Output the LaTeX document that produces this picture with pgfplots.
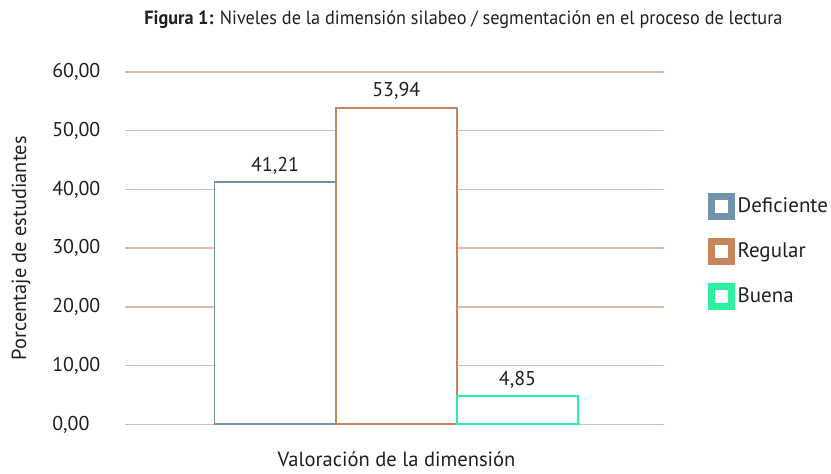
\documentclass[border=0pt]{standalone}
\usepackage{fontspec}
\setmainfont{PT Sans}
\usepackage{pgfplots}
\pgfplotsset{compat=1.18}
\definecolor{cDef}{HTML}{7293AE}
\definecolor{cReg}{HTML}{C8855B}
\definecolor{cBue}{HTML}{2EF0A3}
\definecolor{gridc}{HTML}{DDBBAA}
\definecolor{txt}{HTML}{231F20}
\begin{document}
\begin{tikzpicture}
\begin{axis}[
  at={(0pt,0pt)}, anchor=south west,
  scale only axis, width=270pt, height=176.5pt,
  xmin=-2.24, xmax=2.21, ymin=0, ymax=60,
  axis line style={draw=none},
  major tick length=0pt,
  xtick=\empty,
  ytick={0,10,...,60},
  ymajorgrids,
  grid style={draw=gridc, line width=0.75pt},
  font=\fontsize{10}{12}\selectfont,
  text=txt,
  yticklabel style={anchor=west, inner sep=0pt, xshift=-36.5pt, text=txt,
    font=\fontsize{10}{12}\selectfont,
    /pgf/number format/.cd, fixed, fixed zerofill, precision=2, use comma, assume math mode=true},
  nodes near coords,
  nodes near coords style={text=txt, font=\fontsize{10}{12}\selectfont,
    /pgf/number format/.cd, fixed, fixed zerofill, precision=2, use comma, assume math mode=true},
  every axis y label/.style={at={(axis description cs:-0.1926,0.5)}, rotate=90, anchor=center,
    font=\fontsize{10.2}{12}\selectfont},
  every axis x label/.style={at={(axis description cs:0.504,-0.099)}, anchor=center,
    font=\fontsize{10.3}{12}\selectfont},
  every axis title/.style={at={(axis description cs:0.628,1.147)}, anchor=center,
    font=\fontsize{9.6}{12}\selectfont, xscale=0.95},
  ylabel={Porcentaje de estudiantes},
  xlabel={Valoración de la dimensión},
  title={\textbf{Figura 1:} Niveles de la dimensión silabeo / segmentación en el proceso de lectura},
  legend style={at={(axis description cs:1.08,0.49)}, anchor=west, draw=none, fill=none,
    inner sep=0pt, row sep=9pt, font=\fontsize{10.5}{12}\selectfont, text=txt,
    nodes={inner sep=1.5pt}},
  legend cell align=left,
]
\addplot[ybar, bar width=1, bar shift=0pt, draw=cDef, fill=white, line width=1pt,
  legend image code/.code={\fill[cDef] (0pt,-6.25pt) rectangle (12.5pt,6.25pt);
    \fill[white] (3.5pt,-2.75pt) rectangle (9pt,2.75pt);}]
  coordinates {(-1,41.21)};
\addplot[ybar, bar width=1, bar shift=0pt, draw=cReg, fill=white, line width=1pt,
  legend image code/.code={\fill[cReg] (0pt,-6.25pt) rectangle (12.5pt,6.25pt);
    \fill[white] (3.5pt,-2.75pt) rectangle (9pt,2.75pt);}]
  coordinates {(0,53.94)};
\addplot[ybar, bar width=1, bar shift=0pt, draw=cBue, fill=white, line width=1pt,
  legend image code/.code={\fill[cBue] (0pt,-6.25pt) rectangle (12.5pt,6.25pt);
    \fill[white] (3.5pt,-2.75pt) rectangle (9pt,2.75pt);}]
  coordinates {(1,4.85)};
\legend{Deficiente, Regular, Buena}
\end{axis}
\path[use as bounding box] (-62.5pt,-21.5pt) rectangle (353pt,212.5pt);
\end{tikzpicture}
\end{document}
